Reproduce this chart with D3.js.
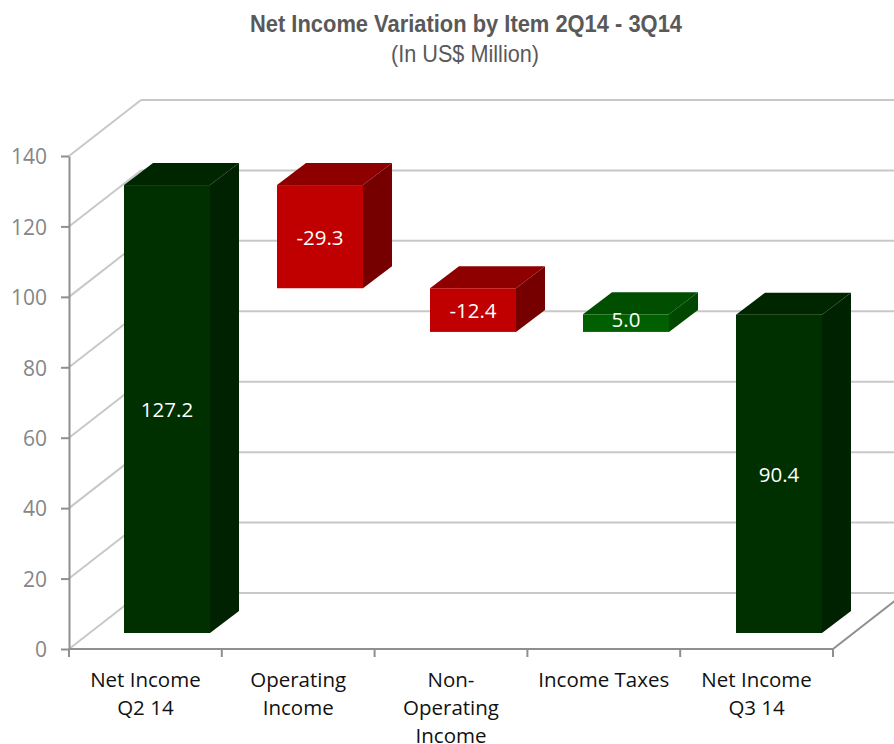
<!DOCTYPE html>
<html>
<head>
<meta charset="utf-8">
<script src="https://cdn.jsdelivr.net/npm/d3@7"></script>
<style>
  html, body { margin: 0; padding: 0; background: #fff; overflow: hidden; }
  text { font-family: "Open Sans", sans-serif; }
</style>
</head>
<body>
<svg id="chart" width="894" height="744"></svg>
<script>
// chart data
const categories = ["Net Income|Q2 14", "Operating|Income", "Non-|Operating|Income", "Income Taxes", "Net Income|Q3 14"];
const barLow = [0, 97.9, 85.5, 85.5, 0];
const barHigh = [127.2, 127.2, 97.9, 90.5, 90.4];
const barLabels = ["127.2", "-29.3", "-12.4", "5.0", "90.4"];
const barKind = ["total", "down", "down", "up", "total"];
const yTicks = [0, 20, 40, 60, 80, 100, 120, 140];

const palette = {
  total: { front: "#003000", top: "#002600", side: "#002200" },
  down: { front: "#c00000", top: "#8e0000", side: "#760000" },
  up: { front: "#006000", top: "#004e00", side: "#004700" }
};

const svg = d3.select("#chart");

// floor to ceiling of the front plane
const y = d3.scaleLinear().domain([0, 140]).range([649, 156]);
const x = d3.scaleBand().domain(d3.range(categories.length)).range([69, 833]);

// 3d offsets
const depthX = 72, depthY = -56;       // wall depth
const barDepthX = 29, barDepthY = -22; // bar depth
const barLeft = 55.4, barWidth = 86, barDrop = 16;

const gridColor = "#c8c8c8", axisColor = "#8f8f8f";

// back wall gridlines and left wall diagonals
svg.append("g").selectAll("line.grid")
  .data(yTicks)
  .join("line")
  .attr("x1", 69 + depthX).attr("x2", 900)
  .attr("y1", d => y(d) + depthY).attr("y2", d => y(d) + depthY)
  .attr("stroke", gridColor).attr("stroke-width", 2);

svg.append("g").selectAll("line.diag")
  .data(yTicks)
  .join("line")
  .attr("x1", 69).attr("y1", d => y(d))
  .attr("x2", 69 + depthX).attr("y2", d => y(d) + depthY)
  .attr("stroke", gridColor).attr("stroke-width", 2);

// floor right edge
svg.append("line")
  .attr("x1", 833).attr("y1", y(0))
  .attr("x2", 833 + depthX).attr("y2", y(0) + depthY)
  .attr("stroke", axisColor).attr("stroke-width", 2);

// axes
const yAxis = d3.axisLeft(y).tickValues(yTicks).tickSize(16).tickPadding(4).tickSizeOuter(0);
const gy = svg.append("g").attr("transform", "translate(69,0)").call(yAxis);
gy.selectAll("line").attr("stroke", axisColor).attr("stroke-width", 2).attr("x1", 0).attr("x2", -8);
gy.select(".domain").attr("stroke", axisColor).attr("stroke-width", 2);
gy.selectAll("text").attr("x", -22).attr("y", 1).attr("fill", "#868686").style("font-size", "21px").style("font-family", '"Open Sans", sans-serif');

const xLine = svg.append("g");
xLine.append("line")
  .attr("x1", 69).attr("x2", 833).attr("y1", y(0)).attr("y2", y(0))
  .attr("stroke", axisColor).attr("stroke-width", 2);
xLine.selectAll("line.tick")
  .data(d3.range(categories.length + 1))
  .join("line")
  .attr("class", "tick")
  .attr("x1", d => 69 + d * x.bandwidth()).attr("x2", d => 69 + d * x.bandwidth())
  .attr("y1", y(0)).attr("y2", y(0) + 8)
  .attr("stroke", axisColor).attr("stroke-width", 2);

// bars
const bars = svg.append("g").selectAll("g.bar")
  .data(categories.map((c, i) => i))
  .join("g")
  .attr("class", "bar");

const barX = i => Math.round(x(i) + barLeft);
const barTop = i => y(barHigh[i]) - barDrop;
const barBottom = i => y(barLow[i]) - barDrop;
const pts = a => a.map(p => p.join(",")).join(" ");

bars.append("polygon")
  .attr("points", i => pts([
    [barX(i), barTop(i)],
    [barX(i) + barDepthX, barTop(i) + barDepthY],
    [barX(i) + barWidth + barDepthX, barTop(i) + barDepthY],
    [barX(i) + barWidth, barTop(i)]
  ]))
  .attr("fill", i => palette[barKind[i]].top);

bars.append("polygon")
  .attr("points", i => pts([
    [barX(i) + barWidth, barTop(i)],
    [barX(i) + barWidth + barDepthX, barTop(i) + barDepthY],
    [barX(i) + barWidth + barDepthX, barBottom(i) + barDepthY],
    [barX(i) + barWidth, barBottom(i)]
  ]))
  .attr("fill", i => palette[barKind[i]].side);

bars.append("rect")
  .attr("x", barX)
  .attr("y", barTop)
  .attr("width", barWidth)
  .attr("height", i => barBottom(i) - barTop(i))
  .attr("fill", i => palette[barKind[i]].front);

// the short bar's label sits a bit above centre in the original
bars.append("text")
  .attr("x", i => barX(i) + barWidth / 2)
  .attr("y", i => (barTop(i) + barBottom(i)) / 2 + (barKind[i] === "up" ? 4 : 8))
  .attr("text-anchor", "middle")
  .attr("fill", "#fff")
  .style("font-size", "20.5px")
  .text(i => barLabels[i]);

// category labels
svg.append("g").selectAll("text")
  .data(categories)
  .join("text")
  .attr("text-anchor", "middle")
  .attr("fill", "#111")
  .style("font-size", "20.5px")
  .each(function (d, i) {
    d3.select(this).selectAll("tspan")
      .data(d.split("|"))
      .join("tspan")
      .attr("x", x(i) + x.bandwidth() / 2)
      .attr("y", (t, j) => 687 + j * 28)
      .text(t => t);
  });

// title, squeezed since no narrow font is installed
svg.append("text")
  .attr("x", 466).attr("y", 32)
  .attr("text-anchor", "middle")
  .attr("fill", "#595959")
  .attr("textLength", 432)
  .attr("lengthAdjust", "spacingAndGlyphs")
  .style("font-family", '"Liberation Sans", sans-serif')
  .style("font-weight", "bold")
  .style("font-size", "24px")
  .text("Net Income Variation by Item 2Q14 - 3Q14");

svg.append("text")
  .attr("x", 465).attr("y", 62)
  .attr("text-anchor", "middle")
  .attr("fill", "#595959")
  .attr("textLength", 148)
  .attr("lengthAdjust", "spacingAndGlyphs")
  .style("font-family", '"Liberation Sans", sans-serif')
  .style("font-size", "24px")
  .text("(In US$ Million)");
</script>
</body>
</html>
